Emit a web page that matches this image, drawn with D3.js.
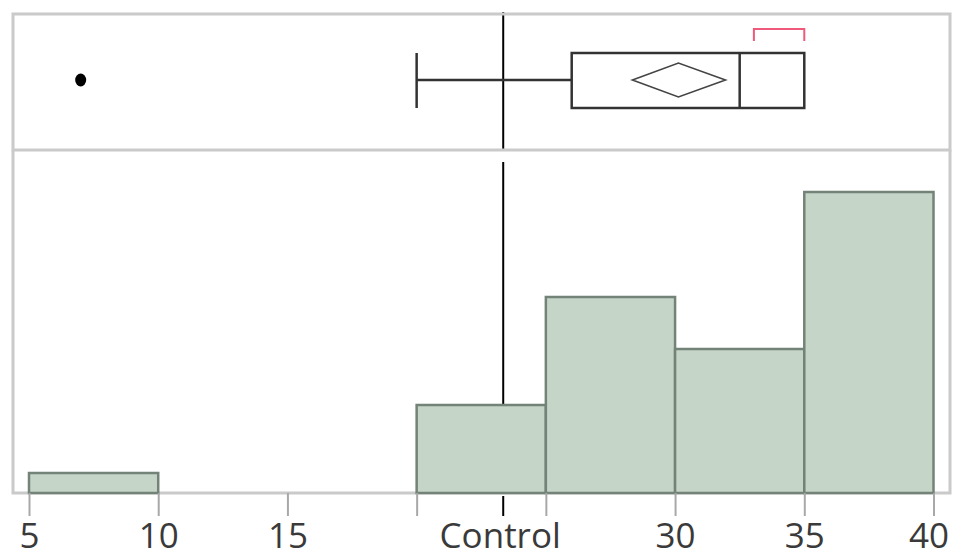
<!DOCTYPE html>
<html>
<head>
<meta charset="utf-8">
<script src="https://cdn.jsdelivr.net/npm/d3@7"></script>
<style>
  html, body { margin: 0; padding: 0; background: #fff; }
  svg { display: block; }
</style>
</head>
<body>
<svg id="chart" width="957" height="558"></svg>
<script>
// ---- data ----
const binStarts = [5, 10, 15, 20, 25, 30, 35];
const binWidth = 5;
const binCounts = [1, 0, 0, 4.4, 9.8, 7.2, 15.05];
const tickValues = [5, 10, 15, 20, 25, 30, 35, 40];
const tickLabels = ["5", "10", "15", "", "", "30", "35", "40"];
const controlValue = 23.35;
const controlLabel = "Control";
const boxStats = { lowerWhisker: 20, q1: 26, median: 32.5, q3: 35, upperWhisker: 35 };
const meanDiamond = { low: 28.35, mean: 30.13, high: 31.95 };
const outliers = [7];
const shortestHalf = [33.05, 35];

// ---- layout ----
const W = 957, H = 558;
const frameL = 13, frameR = 950, frameT = 14, divY = 150, baseY = 493;
const labelBaseline = 55;
const fontSize = 35;
const svg = d3.select("#chart");

const x = d3.scaleLinear().domain([5, 40]).range([29, 933.5]);
const y = d3.scaleLinear().domain([0, 16]).range([baseY, 173]);

const frameColor = "#cacaca";

// control line (behind bars)
svg.append("line")
  .attr("x1", x(controlValue)).attr("x2", x(controlValue))
  .attr("y1", frameT - 2).attr("y2", divY)
  .attr("stroke", "#000").attr("stroke-width", 2);
svg.append("line")
  .attr("x1", x(controlValue)).attr("x2", x(controlValue))
  .attr("y1", 162).attr("y2", baseY)
  .attr("stroke", "#000").attr("stroke-width", 2);

// frames
svg.append("rect")
  .attr("x", frameL).attr("y", frameT)
  .attr("width", frameR - frameL).attr("height", divY - frameT)
  .attr("fill", "none").attr("stroke", frameColor).attr("stroke-width", 3);
svg.append("path")
  .attr("d", `M${frameL},${divY}V${baseY}H${frameR}V${divY}`)
  .attr("fill", "none").attr("stroke", frameColor).attr("stroke-width", 3);

// histogram bars
const bins = binStarts.map((s, i) => ({ s, c: binCounts[i] })).filter(d => d.c > 0);
svg.append("g").selectAll("rect").data(bins).join("rect")
  .attr("x", d => x(d.s))
  .attr("y", d => y(d.c))
  .attr("width", d => x(d.s + binWidth) - x(d.s))
  .attr("height", d => y(0) - y(d.c))
  .attr("fill", "#c5d5c8")
  .attr("stroke", "#738377")
  .attr("stroke-width", 2.5);

// axis
const axis = d3.axisBottom(x)
  .tickValues(tickValues)
  .tickSize(23)
  .tickPadding(5)
  .tickFormat((d, i) => tickLabels[i]);
const gAxis = svg.append("g").attr("transform", `translate(0,${baseY})`).call(axis);
gAxis.select(".domain").remove();
gAxis.selectAll(".tick line").attr("stroke", "#a8a8a8").attr("stroke-width", 2);
gAxis.selectAll(".tick text")
  .attr("font-family", "'Open Sans', sans-serif")
  .attr("font-size", fontSize)
  .attr("fill", "#3a3a3a")
  .attr("y", labelBaseline)
  .attr("dy", 0)
  .attr("dx", (d, i) => i === tickValues.length - 1 ? -5 : 0);

// control tick + label
svg.append("line")
  .attr("x1", x(controlValue)).attr("x2", x(controlValue))
  .attr("y1", baseY + 3).attr("y2", baseY + 23)
  .attr("stroke", "#000").attr("stroke-width", 2);
svg.append("text")
  .attr("x", x(controlValue) - 3).attr("y", baseY + labelBaseline)
  .attr("text-anchor", "middle")
  .attr("font-family", "'Open Sans', sans-serif")
  .attr("font-size", fontSize)
  .attr("fill", "#3a3a3a")
  .text(controlLabel);

// box plot
const boxTop = 53, boxBot = 108, midY = 80;
const stroke = "#333";
svg.append("line")
  .attr("x1", x(boxStats.lowerWhisker)).attr("x2", x(boxStats.q1))
  .attr("y1", midY).attr("y2", midY)
  .attr("stroke", stroke).attr("stroke-width", 2.5);
svg.append("line")
  .attr("x1", x(boxStats.lowerWhisker)).attr("x2", x(boxStats.lowerWhisker))
  .attr("y1", boxTop).attr("y2", boxBot)
  .attr("stroke", stroke).attr("stroke-width", 2.5);
svg.append("rect")
  .attr("x", x(boxStats.q1)).attr("y", boxTop)
  .attr("width", x(boxStats.q3) - x(boxStats.q1)).attr("height", boxBot - boxTop)
  .attr("fill", "none").attr("stroke", stroke).attr("stroke-width", 2.5);
svg.append("line")
  .attr("x1", x(boxStats.median)).attr("x2", x(boxStats.median))
  .attr("y1", boxTop).attr("y2", boxBot)
  .attr("stroke", stroke).attr("stroke-width", 2.5);
// mean diamond
svg.append("path")
  .attr("d", `M${x(meanDiamond.low)},${midY}L${x(meanDiamond.mean)},63L${x(meanDiamond.high)},${midY}L${x(meanDiamond.mean)},97Z`)
  .attr("fill", "none").attr("stroke", "#444").attr("stroke-width", 1.6);
// outliers
svg.append("g").selectAll("ellipse").data(outliers).join("ellipse")
  .attr("cx", d => x(d)).attr("cy", midY)
  .attr("rx", 5.5).attr("ry", 6.5)
  .attr("fill", "#000");
// shortest half bracket
svg.append("path")
  .attr("d", `M${x(shortestHalf[0])},41V29H${x(shortestHalf[1])}V41`)
  .attr("fill", "none").attr("stroke", "#ef5a7a").attr("stroke-width", 2);
</script>
</body>
</html>
